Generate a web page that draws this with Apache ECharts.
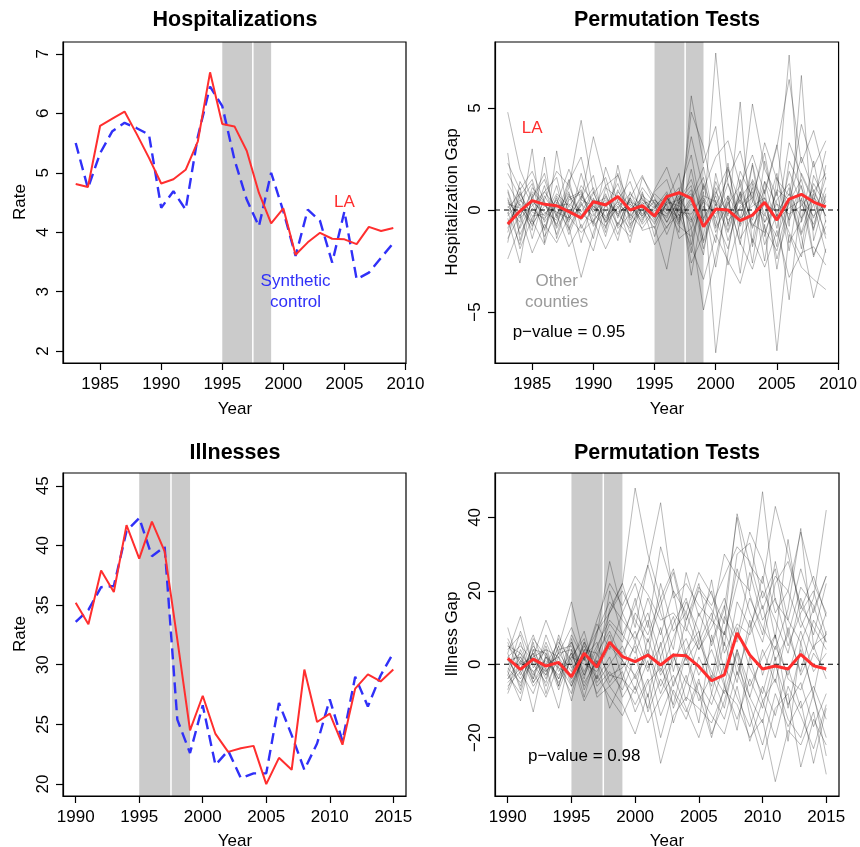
<!DOCTYPE html>
<html>
<head>
<meta charset="utf-8">
<script src="https://cdn.jsdelivr.net/npm/echarts@6/dist/echarts.min.js"></script>
<style>
  html, body { margin: 0; padding: 0; background: #fff; }
  #chart { width: 860px; height: 847px; }
</style>
</head>
<body>
<div id="chart"></div>
<script>
'use strict';

// ---- data ----
var hospYears = [1983, 1984, 1985, 1986, 1987, 1988, 1989, 1990, 1991, 1992, 1993, 1994, 1995,
                 1996, 1997, 1998, 1999, 2000, 2001, 2002, 2003, 2004, 2005, 2006, 2007, 2008, 2009];
var hospLA = [4.81, 4.76, 5.79, 5.91, 6.03, 5.65, 5.25, 4.82, 4.89, 5.05, 5.53, 6.69, 5.82,
              5.78, 5.37, 4.66, 4.15, 4.40, 3.62, 3.83, 3.99, 3.89, 3.88, 3.80, 4.09, 4.02, 4.07];
var hospSynth = [5.50, 4.74, 5.33, 5.70, 5.84, 5.75, 5.64, 4.41, 4.69, 4.38, 5.61, 6.45, 6.12,
                 5.22, 4.55, 4.10, 5.00, 4.35, 3.60, 4.38, 4.19, 3.49, 4.35, 3.21, 3.32, 3.57, 3.82];
var hospGapLA = [-0.69, -0.05, 0.46, 0.28, 0.21, -0.08, -0.38, 0.41, 0.25, 0.66, 0.0, 0.21, -0.30,
                 0.66, 0.85, 0.57, -0.82, 0.05, 0.0, -0.52, -0.25, 0.38, -0.49, 0.54, 0.77, 0.39, 0.16];

// gap lines of the other counties (hospitalizations)
var hospGapOthers = [
  [4.8, 2.0, 0.5, -0.3, 0.8, 0.2, -0.5, 0.3, 0.6, -0.2, 0.4, 0.1, -0.6, 0.3, 0.5, 1.2, -1.5, 0.8, 2.1, -0.7, 1.5, 0.3, -1.8, 2.4, 1.1, -0.4, 1.6],
  [-2.4, -0.8, 1.1, 0.4, -1.2, 0.6, 0.9, -0.5, 0.2, 1.3, -0.4, 0.7, 0.2, -0.9, 0.4, -2.1, 1.3, -0.5, -1.9, 0.9, -2.6, 1.4, 0.3, -1.1, -2.3, 0.8, -1.4],
  [2.8, -1.5, 0.6, 1.8, -0.4, 1.1, 4.4, 0.9, -0.6, 0.5, 1.4, -0.3, 0.8, 0.2, -1.1, 5.6, 2.3, 4.1, -0.8, 1.9, 0.6, 2.8, -0.5, 3.3, 1.7, 0.4, 2.9],
  [0.6, -1.9, -0.4, 0.9, 1.6, -0.8, -3.3, -1.1, 0.7, -0.2, -0.9, 0.4, -0.5, 0.8, -1.4, -0.9, -4.9, -2.3, 0.4, -1.6, -2.9, -0.7, -6.9, -1.2, -2.8, -3.4, -3.9],
  [-0.9, 0.7, 1.5, -0.6, 0.3, 2.0, 0.5, 3.6, 1.2, -0.8, 0.6, 1.7, 0.3, -0.4, 0.9, 2.7, -0.6, 7.7, 1.3, -0.4, 2.2, -1.3, 1.0, 0.5, 2.6, 0.9, 1.8],
  [1.3, 0.2, -1.0, 2.6, -1.4, 0.5, 0.8, -0.7, 2.1, 0.4, -1.1, 0.9, -1.3, 0.5, 1.8, -1.7, 0.9, -7.0, -2.1, 1.5, -0.9, 0.6, -2.4, -0.3, 1.2, -2.2, -0.8],
  [-1.6, 1.4, 0.3, -0.9, 0.7, -0.3, 1.2, 0.4, -1.3, 0.9, 0.2, -0.6, 0.9, 1.5, -0.3, 0.6, 2.1, -0.8, 2.0, 0.3, 5.2, 2.0, 0.7, 7.6, -0.6, 1.3, 0.2],
  [0.2, -0.6, 3.0, -1.6, 2.9, -0.4, 0.6, 1.7, -0.9, 2.2, -0.5, 0.3, 0.5, -0.2, 0.7, -2.6, -1.2, 1.4, -0.3, 5.3, -1.8, 0.9, 3.2, -0.8, 6.6, -1.5, 0.7],
  [-0.4, -2.6, 0.8, -1.3, -0.2, -1.8, -0.7, -2.0, 0.3, -1.2, 0.6, -1.0, -0.8, -2.9, 0.4, 0.8, -1.9, 0.5, -2.7, -0.6, 1.1, -1.7, -0.2, -4.4, 0.6, -2.3, -0.5],
  [1.8, 0.6, -0.8, 0.5, 1.9, 1.2, -0.3, 0.8, 1.6, -0.4, 2.0, 0.5, 0.1, 0.9, -0.7, 4.8, 3.1, 0.2, 1.6, 2.9, 0.4, 3.3, 1.5, 0.7, 4.2, 2.1, 3.4],
  [-1.1, 0.9, -0.5, -1.7, 0.4, -0.6, 1.8, -0.2, -0.8, 0.2, -1.6, 0.8, -0.4, 0.3, -0.8, -1.3, 0.5, -2.8, 0.7, -3.1, 1.3, -0.9, -2.0, 0.4, -1.3, -4.3, -1.9],
  [0.4, -0.3, 0.9, 0.3, -0.7, 0.8, -0.4, 0.5, 0.3, -0.7, 0.6, -0.2, 0.4, -0.6, 0.5, 1.5, -0.4, 0.7, -1.0, 0.9, -0.5, 1.4, -0.9, 1.9, 0.3, -0.7, 1.1],
  [-0.2, 1.1, -1.4, 0.7, -0.3, 1.5, -0.9, 0.2, -0.5, 1.0, -0.3, 0.5, -0.2, 0.4, 0.2, -0.5, 1.2, -1.1, 0.6, -1.7, 2.3, -0.6, 0.9, -2.0, 1.8, 0.5, -1.2],
  [0.9, -1.2, 0.1, -0.5, 1.2, -1.0, 0.4, -1.4, 1.1, 0.6, -0.8, 1.6, 0.6, -0.6, 0.6, -0.4, -2.2, 1.8, -0.7, 0.8, -1.6, 2.4, -0.3, 1.1, -1.9, 1.7, 0.4],
  [-0.7, 0.3, -0.6, 1.2, -0.9, 0.2, 1.0, -0.8, 0.0, -1.5, 0.9, -0.4, 0.2, 0.7, -0.5, 2.0, -0.8, 1.1, -1.5, 0.2, 0.9, -2.5, 1.6, -0.5, 0.8, -1.0, 2.2],
  [0.1, 0.8, -0.3, -0.2, 0.5, -0.5, 0.2, 1.1, -0.4, 0.3, -0.2, -0.9, 0.0, -0.3, 0.9, -0.9, 0.6, -0.4, 1.3, -0.8, 0.4, -0.3, 1.8, -1.6, -0.5, 2.4, -0.6],
  [2.3, 1.0, 1.9, 0.4, -0.8, 1.4, 2.6, 0.0, 1.2, 1.7, 0.3, -0.5, 1.0, 2.1, 0.3, 3.6, 1.0, 2.6, 3.4, 1.2, 2.7, 0.8, 3.1, 6.4, 2.3, 3.9, 1.5],
  [-1.4, -0.2, -2.1, -0.7, -1.6, -0.3, -1.1, -0.5, -1.9, -0.6, -1.3, 0.2, -1.7, -0.8, -0.2, -1.8, -3.4, -1.2, -2.5, -3.6, -1.4, -2.8, -1.0, -3.3, -2.1, -1.8, -2.7],
  [0.5, -0.4, 0.2, 0.9, 0.1, -0.9, 0.5, 0.2, -0.3, 0.4, 0.0, 0.6, -0.3, 0.1, -0.4, 0.3, -0.5, 0.9, -0.2, 0.5, -0.8, 0.3, -0.1, 0.8, -0.4, 0.6, 0.0],
  [-0.3, 0.5, -0.1, -0.4, 0.2, 0.3, -0.2, -0.6, 0.4, -0.1, 0.3, -0.3, 0.5, 0.0, 0.1, -0.6, 0.4, -0.2, 0.7, -0.4, 0.2, 0.6, -0.5, 0.1, 0.5, -0.3, 0.4],
  [1.0, -0.9, 0.4, -0.1, -0.5, 0.7, -0.1, 0.9, -0.6, 0.1, 0.8, 0.2, -0.7, 0.6, -0.6, 0.5, 1.6, -0.9, 0.3, 1.2, -0.7, -1.1, 0.5, 1.3, -1.1, 0.9, -0.3],
  [-0.6, 0.4, 1.3, -1.0, 0.6, -1.2, 0.3, -0.3, 0.8, -0.9, -0.2, 1.1, 0.3, -1.2, 0.2, 1.0, -1.6, 0.3, -1.1, 0.6, 1.4, -0.2, -1.3, 0.4, 1.5, -0.9, 0.8],
  [-0.1, -1.7, 0.6, 1.5, -0.2, 0.9, -1.6, 0.6, -1.1, 1.8, -0.7, 0.0, -0.9, 0.4, 1.1, -3.2, 0.2, -1.6, 2.3, -1.4, -0.3, 1.0, -2.9, 0.6, -1.2, 0.3, -2.1],
  [0.3, 0.1, -0.7, 0.2, -0.1, -0.4, 0.7, -0.1, 0.5, -0.3, 0.5, -0.7, 0.1, 0.6, -0.1, -0.2, 0.7, 0.4, -0.5, 0.1, 0.6, -0.6, 0.3, -0.2, 0.2, 1.0, -0.3]
];

var illYears = [1990, 1991, 1992, 1993, 1994, 1995, 1996, 1997, 1998, 1999, 2000, 2001, 2002,
                2003, 2004, 2005, 2006, 2007, 2008, 2009, 2010, 2011, 2012, 2013, 2014, 2015];
var illLA = [35.2, 33.4, 37.9, 36.1, 41.7, 38.9, 42.0, 39.5, 32.1, 24.5, 27.4, 24.2, 22.7,
             23.0, 23.2, 20.0, 22.2, 21.2, 29.6, 25.2, 25.9, 23.3, 28.0, 29.2, 28.6, 29.6];
var illSynth = [33.6, 34.6, 36.5, 36.6, 41.2, 42.3, 39.1, 39.9, 25.4, 22.6, 26.6, 21.6, 22.8,
                20.5, 20.9, 20.9, 26.8, 24.1, 21.2, 23.4, 27.1, 23.6, 29.0, 26.5, 29.1, 31.0];
var illGapLA = [1.6, -1.4, 1.4, -0.5, 0.5, -3.4, 3.0, -0.8, 6.0, 2.1, 0.7, 2.5, -0.2,
                2.5, 2.3, -0.6, -4.5, -2.9, 8.5, 2.5, -1.3, -0.5, -1.3, 2.7, -0.4, -1.3];

// gap lines of the other counties (illnesses)
var illGapOthers = [
  [10, -2, 3, -4, 5, 17, 2, 9, 14, 22, 48, 30, 18, 26, 12, 20, 15, 8, 22, 36, 28, 14, 20, 10, 18, 42],
  [-7, 4, -3, 6, -2, 3, -5, 1, -6, -11, -19, -8, -27, -14, -9, -12, -16, -7, -11, -20, -15, -32, -18, -22, -13, -30],
  [3, 13, -1, 4, 2, 6, -2, 5, 12, 8, 16, 27, 44, 18, 22, 16, 12, 30, 24, 20, 47, 17, 12, 26, 14, 24],
  [-2, -10, 4, -3, 7, -5, 2, -8, -3, -1, 5, -13, -4, -11, 3, -8, -20, -6, -15, -4, -12, 2, -21, 6, -9, -20],
  [5, 1, -13, 3, -4, 8, 1, 11, 4, 14, 22, 10, 32, 20, 14, 25, 19, 11, 41, 27, 22, 43, 30, 15, 24, 13],
  [1, -4, 2, 12, 3, -2, 5, -1, 20, 8, 3, 12, -2, 7, 17, 9, -4, 13, 6, 18, 10, 4, 15, 37, 5, 8],
  [-4, 2, -6, -1, -12, 4, -9, 3, -3, -4, -11, -4, -20, -7, -13, -4, -19, -10, 3, -14, -26, -12, -8, -28, -15, -22],
  [6, -3, 5, 0, 6, 1, 9, -4, 15, 22, 10, 27, 14, 4, 25, 13, 20, 5, 30, 33, 18, 26, 8, 21, 16, 6],
  [-3, 6, -5, 2, -1, -8, 4, -6, -2, -7, 2, -9, 6, -12, -3, -16, 8, -5, -18, 2, -10, -20, -6, -14, -23, -11],
  [2, -6, 6, -8, 4, 5, -3, 8, 28, 14, 6, 18, 8, 20, 2, 14, 6, 16, -3, 9, 24, 7, 34, 12, 4, 14],
  [0, 3, -2, 1, -3, 2, 0, -2, 5, 1, -3, 4, -6, 2, -5, 6, -2, -8, 4, -6, 2, 8, -4, -7, 3, -2],
  [-5, -1, 3, -6, 2, -4, 6, -9, -6, -2, -13, -5, -1, -8, -15, -5, -11, 0, -9, -17, -6, -14, -1, -12, -6, -15],
  [4, 8, -4, 5, -6, 6, -3, 4, 14, 20, 12, 6, 16, 25, 10, 4, 12, 8, 26, 14, 6, 22, 28, 16, 10, 4],
  [-1, -5, 1, -3, 5, -6, 3, -1, 8, -4, 6, -2, 10, -6, 4, 9, -8, 6, -5, 12, -3, 8, -12, 4, -8, 9],
  [7, 0, 8, -2, 3, 10, 1, 12, 22, 16, 24, 19, 12, 14, 9, 21, 16, 24, 32, 28, 15, 24, 20, 36, 22, 14],
  [-6, -2, -8, 2, -5, 1, -10, -3, -9, -14, -6, -16, -9, -3, -12, -20, -8, -15, -2, -11, -22, -8, -17, -10, -27, -12],
  [1, 2, -4, 8, -1, -3, 6, 0, 6, 3, 9, -1, 5, 13, 1, 7, 23, 3, 11, 8, 16, 1, 8, -2, 12, 6],
  [-2, 9, 0, -5, 8, -1, 2, 6, -5, 1, -7, 7, -3, 3, -10, 2, -6, 9, 0, -9, 4, -5, 10, -3, 5, -4],
  [3, -7, 7, 2, -4, 3, -6, 2, 11, 6, 18, 2, 22, 9, 14, 4, 10, 18, 7, 25, 12, 18, 5, 14, 20, 8],
  [-8, 1, -2, -9, 0, -6, 2, -4, 2, -9, -3, -12, 2, -16, -5, -8, -14, -19, -6, -21, -10, -4, -15, -20, -8, -25],
  [2, 5, 1, -2, 3, 4, -4, 9, 17, 12, 7, 14, 2, 11, 18, 6, 14, -2, 17, 10, 20, 12, 3, 18, 8, 22],
  [-3, -8, 4, 3, -7, 2, 7, -5, 0, 5, -4, 3, -8, 1, 7, -3, 4, -6, 10, -1, -8, 5, -3, 9, -2, 3],
  [5, 3, -5, 0, 2, -10, 4, 3, 9, 1, 14, 8, 18, -2, 12, 22, 5, 15, 40, 19, 8, 28, 12, 6, 15, 24],
  [-4, 0, 2, 4, -6, 7, -7, 1, -12, -4, -8, 1, -14, -5, 2, -10, -3, -12, 4, -9, -16, 0, -11, -5, -17, -8]
];

var treatStart = 1995, treatEnd = 1999, treatMid = 1997.5;

var hospXTicks = [1985, 1990, 1995, 2000, 2005, 2010];
var illXTicks = [1990, 1995, 2000, 2005, 2010, 2015];
var hospYTicks = [2, 3, 4, 5, 6, 7];
var hospGapYTicks = [-5, 0, 5];
var illYTicks = [20, 25, 30, 35, 40, 45];
var illGapYTicks = [-20, 0, 20, 40];

// annotations [x, y, text]
var notesRate = [[2005, 4.5, 'LA'], [2001, 3.0, 'Synthetic\ncontrol']];
var notesHospGap = [[1985, 4.0, 'LA'], [1987, -4.0, 'Other\ncounties'], [1988, -6.0, 'p\u2212value = 0.95']];
var notesIllGap = [[1996, -25, 'p\u2212value = 0.98']];

// ---- chart ----
var FONT = '"Liberation Sans", Arial, Helvetica, sans-serif';
var RED = '#ff2e2e';
var BLUE = '#3030f8';
var GREY_TEXT = '#9a9a9a';

// axis limits (R style: data range + 4%)
var xLim = [[1981.96, 2010.04], [1981.96, 2010.04], [1989, 2016], [1989, 2016]];
var yLim = [[1.8, 7.2], [-7.5, 8.24], [19, 46.07], [-35.9, 52.1]];

function pairs(xs, ys) {
    return xs.map(function (x, i) { return [x, ys[i]]; });
}

function tickFmt(v) {
    return v < 0 ? '\u2212' + (-v) : String(v);
}

function makeX(idx, ticks) {
    return {
        type: 'value', gridIndex: idx, min: xLim[idx][0], max: xLim[idx][1],
        axisLine: { show: true, onZero: false, lineStyle: { color: '#000', width: 1.2 } },
        axisTick: { show: true, length: 7, lineStyle: { color: '#000', width: 1.2 }, customValues: ticks },
        axisLabel: { customValues: ticks, formatter: tickFmt, color: '#000', fontSize: 17, fontFamily: FONT, margin: 13 },
        splitLine: { show: false }
    };
}

function makeY(idx, ticks) {
    return {
        type: 'value', gridIndex: idx, min: yLim[idx][0], max: yLim[idx][1],
        axisLine: { show: true, onZero: false, lineStyle: { color: '#000', width: 1.2 } },
        axisTick: { show: true, length: 7, lineStyle: { color: '#000', width: 1.2 }, customValues: ticks },
        axisLabel: { customValues: ticks, formatter: tickFmt, rotate: 90, color: '#000', fontSize: 17, fontFamily: FONT, margin: 11 },
        splitLine: { show: false }
    };
}

var series = [];

// shaded treatment window and white divider in every panel
for (var g = 0; g < 4; g++) {
    series.push({
        type: 'line', xAxisIndex: g, yAxisIndex: g, data: [], silent: true,
        markArea: {
            silent: true,
            itemStyle: { color: '#cbcbcb' },
            data: [[{ xAxis: treatStart }, { xAxis: treatEnd }]]
        }
    });
    series.push({
        type: 'line', xAxisIndex: g, yAxisIndex: g, silent: true, symbol: 'none',
        data: [[treatMid, yLim[g][0]], [treatMid, yLim[g][1]]],
        lineStyle: { color: '#fff', width: 1.5 }
    });
}

// other counties
hospGapOthers.forEach(function (vals) {
    series.push({
        type: 'line', xAxisIndex: 1, yAxisIndex: 1, silent: true, symbol: 'none',
        data: pairs(hospYears, vals),
        lineStyle: { color: 'rgba(0,0,0,0.27)', width: 1 }
    });
});
illGapOthers.forEach(function (vals) {
    series.push({
        type: 'line', xAxisIndex: 3, yAxisIndex: 3, silent: true, symbol: 'none',
        data: pairs(illYears, vals),
        lineStyle: { color: 'rgba(0,0,0,0.27)', width: 1 }
    });
});

// zero reference lines
[1, 3].forEach(function (g) {
    series.push({
        type: 'line', xAxisIndex: g, yAxisIndex: g, silent: true, symbol: 'none',
        data: [[xLim[g][0], 0], [xLim[g][1], 0]],
        lineStyle: { color: '#000', width: 1.1, type: [5, 4] }
    });
});

// synthetic (blue dashed) and LA (red)
series.push({
    type: 'line', xAxisIndex: 0, yAxisIndex: 0, symbol: 'none', data: pairs(hospYears, hospSynth),
    lineStyle: { color: BLUE, width: 2.4, type: [11, 6] }
});
series.push({
    type: 'line', xAxisIndex: 0, yAxisIndex: 0, symbol: 'none', data: pairs(hospYears, hospLA),
    lineStyle: { color: RED, width: 2 }
});
series.push({
    type: 'line', xAxisIndex: 2, yAxisIndex: 2, symbol: 'none', data: pairs(illYears, illSynth),
    lineStyle: { color: BLUE, width: 2.4, type: [11, 6] }
});
series.push({
    type: 'line', xAxisIndex: 2, yAxisIndex: 2, symbol: 'none', data: pairs(illYears, illLA),
    lineStyle: { color: RED, width: 2 }
});
series.push({
    type: 'line', xAxisIndex: 1, yAxisIndex: 1, symbol: 'none', data: pairs(hospYears, hospGapLA),
    lineStyle: { color: RED, width: 3 }
});
series.push({
    type: 'line', xAxisIndex: 3, yAxisIndex: 3, symbol: 'none', data: pairs(illYears, illGapLA),
    lineStyle: { color: RED, width: 3 }
});

var grids = [
    { left: 63, top: 42, width: 343, height: 321 },
    { left: 495, top: 42, width: 344, height: 321 },
    { left: 63, top: 473, width: 343, height: 323 },
    { left: 495, top: 473, width: 344, height: 323 }
].map(function (r) {
    r.show = true; r.z = 10; r.backgroundColor = 'transparent';
    r.borderColor = '#000'; r.borderWidth = 1.2; r.containLabel = false;
    return r;
});

function label(x, y, text, opts) {
    var o = opts || {};
    return {
        type: 'text', x: x, y: y, rotation: o.rot || 0, silent: true, z: 20,
        style: {
            text: text, fill: o.color || '#000', textAlign: 'center', textVerticalAlign: 'middle',
            font: (o.bold ? 'bold ' : '') + (o.size || 17) + 'px ' + FONT,
            lineHeight: 21
        }
    };
}

var myChart = echarts.init(document.getElementById('chart'), null, { renderer: 'canvas' });
myChart.setOption({
    animation: false,
    backgroundColor: '#fff',
    grid: grids,
    xAxis: [makeX(0, hospXTicks), makeX(1, hospXTicks), makeX(2, illXTicks), makeX(3, illXTicks)],
    yAxis: [makeY(0, hospYTicks), makeY(1, hospGapYTicks), makeY(2, illYTicks), makeY(3, illGapYTicks)],
    series: series
});

// titles, axis names and in-plot notes (notes placed through the axes' scales)
var texts = [
    label(235, 20, 'Hospitalizations', { bold: true, size: 21.5 }),
    label(667, 20, 'Permutation Tests', { bold: true, size: 21.5 }),
    label(235, 453, 'Illnesses', { bold: true, size: 21.5 }),
    label(667, 453, 'Permutation Tests', { bold: true, size: 21.5 }),
    label(235, 409, 'Year'),
    label(667, 409, 'Year'),
    label(235, 841, 'Year'),
    label(667, 841, 'Year'),
    label(20, 202, 'Rate', { rot: Math.PI / 2 }),
    label(452, 202, 'Hospitalization Gap', { rot: Math.PI / 2 }),
    label(20, 634, 'Rate', { rot: Math.PI / 2 }),
    label(452, 634, 'Illness Gap', { rot: Math.PI / 2 })
];
function addNotes(g, notes, colors) {
    notes.forEach(function (n, i) {
        var p = myChart.convertToPixel({ gridIndex: g }, [n[0], n[1]]);
        texts.push(label(p[0], p[1], n[2], { color: colors[i] }));
    });
}
addNotes(0, notesRate, [RED, BLUE]);
addNotes(1, notesHospGap, [RED, GREY_TEXT, '#000']);
addNotes(3, notesIllGap, ['#000']);

myChart.setOption({ graphic: texts });
</script>
</body>
</html>
